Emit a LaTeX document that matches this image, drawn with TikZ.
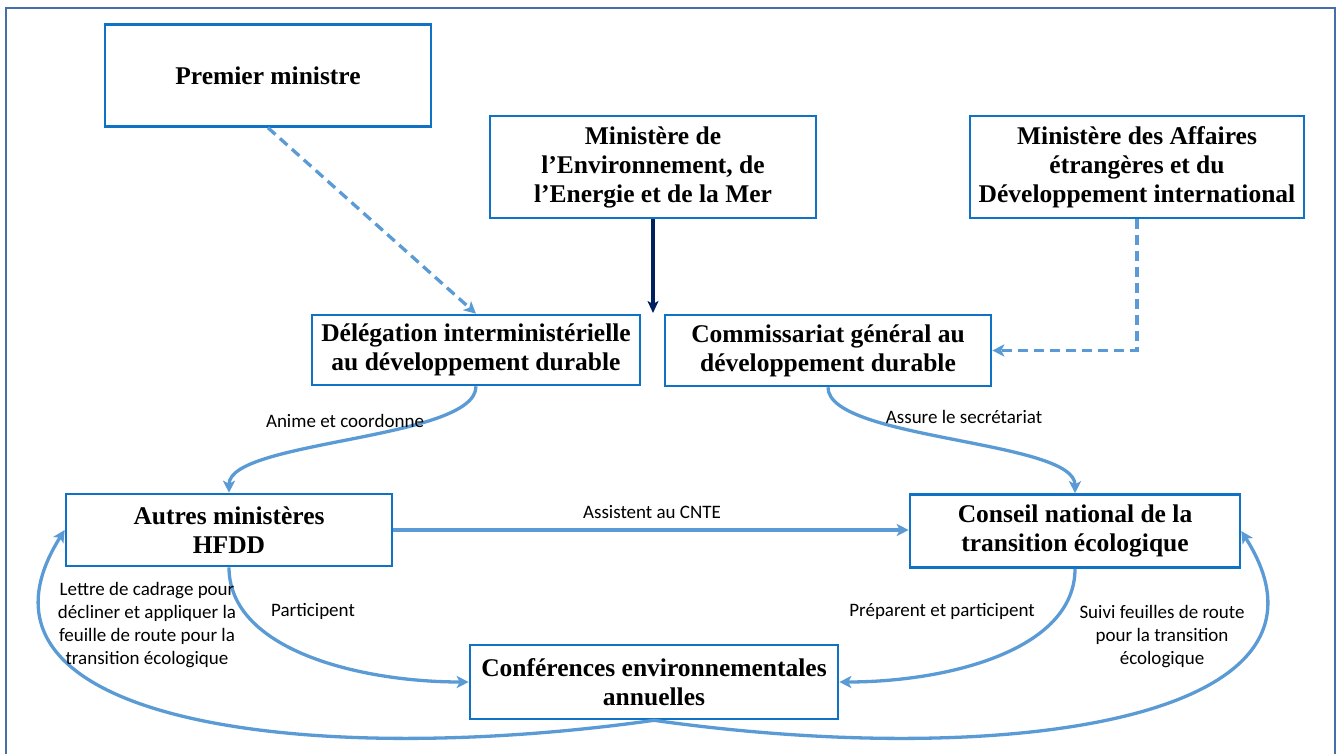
\documentclass[tikz,border=0pt]{standalone}
\usepackage{fontspec}
\setmainfont{Liberation Serif}
\newfontfamily\labfont{Carlito}
\usetikzlibrary{arrows.meta,calc}
\definecolor{boxblue}{RGB}{16,114,196}
\definecolor{arrowblue}{RGB}{91,155,213}
\definecolor{navyblue}{RGB}{0,32,96}
\definecolor{framecol}{RGB}{70,110,170}
\begin{document}
\begin{tikzpicture}[x=1pt,y=-1pt,
  box/.style={draw=boxblue,line width=2.6pt,inner sep=0pt,align=center,
    font=\fontsize{25.5}{29}\selectfont\bfseries},
  conn/.style={draw=arrowblue,line width=3.3pt,
    -{Stealth[length=12pt,width=12pt,inset=3pt]}},
  dashconn/.style={conn,dash pattern=on 10pt off 6pt},
  darkconn/.style={draw=navyblue,line width=3.2pt,
    -{Stealth[length=12pt,width=11pt,inset=3pt]}},
  lab/.style={font=\labfont\fontsize{19}{23}\selectfont,align=center,inner sep=0pt}
]
\useasboundingbox (0,0) rectangle (1338,754);
\fill[white] (0,0) rectangle (1338,754);
\draw[framecol,line width=1.3pt] (6,754) -- (6,8) -- (1335,8) -- (1335,754);

% boxes
\node[box,minimum width=326pt,minimum height=102pt] (pm) at (268,75.5) {Premier ministre};
\node[box,minimum width=326pt,minimum height=102pt] (mem) at (653,167)
  {Ministère de\\l’Environnement, de\\l’Energie et de la Mer};
\node[box,minimum width=334pt,minimum height=102pt] (maedi) at (1137,167)
  {Ministère des Affaires\\étrangères et du\\Développement international};
\node[box,minimum width=328pt,minimum height=70pt] (did) at (476,350)
  {Délégation interministérielle\\au développement durable};
\node[box,minimum width=326pt,minimum height=71pt] (cgdd) at (828,350.5)
  {Commissariat général au\\développement durable};
\node[box,minimum width=326pt,minimum height=72pt] (am) at (229,530)
  {Autres ministères\\HFDD};
\node[box,minimum width=330pt,minimum height=73pt] (cnte) at (1075,531)
  {Conseil national de la\\transition écologique};
\node[box,minimum width=368pt,minimum height=74pt] (cea) at (654,682)
  {Conférences environnementales\\annuelles};

\coordinate (memend) at (653,313);

% connectors
\draw[dashconn] (pm.south) -- (did.north);
\draw[darkconn] (mem.south) -- (memend);
\draw[dashconn] (maedi.south) |- (cgdd.east);
\draw[conn] (did.south) .. controls (476,440) and (229,440) .. (am.north);
\draw[conn] (cgdd.south) .. controls (828,440) and (1075,440) .. (cnte.north);
\draw[conn] (am.east) -- (cnte.west |- am.east);
\draw[conn] (am.south) .. controls (229,650) and (360,682) .. (cea.west);
\draw[conn] (cnte.south) .. controls (1075,650) and (948,682) .. (cea.east);
\draw[conn] (cea.south) .. controls (300,770) and (-55,720) .. (am.west);
\draw[conn] (cea.south) .. controls (1006,770) and (1361,720) .. (cnte.east);

% labels
\node[lab] (l1) at (345,421) {Anime et coordonne};
\node[lab] (l2) at (964,417) {Assure le secrétariat};
\node[lab] (l3) at (652,512) {Assistent au CNTE};
\node[lab] (l4) at (313,611) {Participent};
\node[lab] (l5) at (942,611) {Préparent et participent};
\node[lab] (l6) at (147,625) {Lettre de cadrage pour\\décliner et appliquer la\\feuille de route pour la\\transition écologique};
\node[lab] (l7) at (1162,637) {Suivi feuilles de route\\pour la transition\\écologique};
\end{tikzpicture}
\end{document}
